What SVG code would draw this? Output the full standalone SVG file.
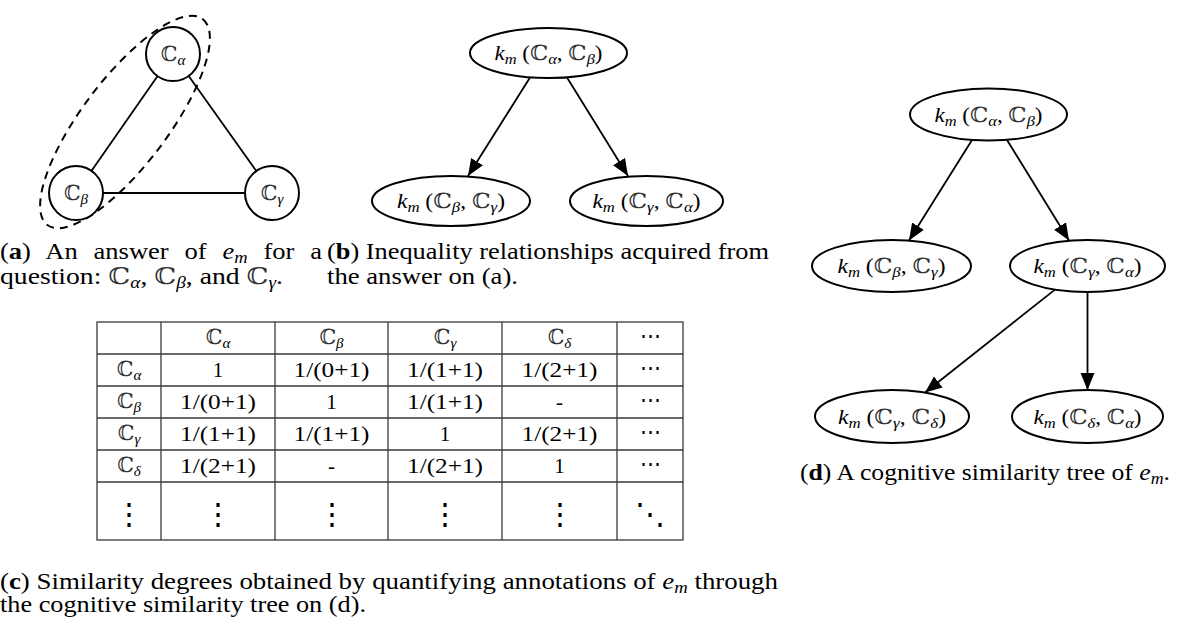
<svg xmlns="http://www.w3.org/2000/svg" width="1178" height="619" viewBox="0 0 1178 619">
<style>
.t{font-family:"Liberation Serif","Times New Roman","DejaVu Serif",serif;fill:#000}
.cap{font-size:23px}
.lbl{font-size:21px}
.cell{font-size:21px}
.node{fill:#fff;stroke:#000;stroke-width:2}
.edge{stroke:#000;stroke-width:1.8;fill:none}
.arr{stroke:#000;stroke-width:1.8;fill:none;marker-end:url(#ah)}
.grid{stroke:#3a3a3a;stroke-width:1.3;fill:none}
.it{font-style:italic}
.b{font-weight:bold}
.bb{fill:#333}
</style>
<defs>
<marker id="ah" markerUnits="userSpaceOnUse" markerWidth="18" markerHeight="16" refX="17" refY="7" orient="auto">
<path d="M0,0 L17,7 L0,14 z" fill="#000"/>
</marker>
</defs>

<!-- Panel (a) -->
<g id="panel-a">
<ellipse cx="125" cy="122" rx="129" ry="43" transform="rotate(-53 125 122)" fill="none" stroke="#000" stroke-width="2" stroke-dasharray="8 6"/>
<g id="a-edges">
<line class="edge" x1="157.6" y1="76.1" x2="91.4" y2="170.9"/>
<line class="edge" x1="188.7" y1="76" x2="256.3" y2="171"/>
<line class="edge" x1="103" y1="193" x2="245" y2="193"/>
</g>
<g id="a-alpha"><circle class="node" cx="173" cy="54" r="27"/><text class="t lbl" x="173" y="61" text-anchor="middle"><tspan class="bb">ℂ</tspan><tspan class="it" font-size="15" dy="4">α</tspan></text></g>
<g id="a-beta"><circle class="node" cx="76" cy="193" r="27"/><text class="t lbl" x="76" y="200" text-anchor="middle"><tspan class="bb">ℂ</tspan><tspan class="it" font-size="15" dy="4">β</tspan></text></g>
<g id="a-gamma"><circle class="node" cx="272" cy="193" r="27"/><text class="t lbl" x="272" y="200" text-anchor="middle"><tspan class="bb">ℂ</tspan><tspan class="it" font-size="15" dy="4">γ</tspan></text></g>
</g>

<!-- Panel (b) -->
<g id="panel-b">
<g id="b-edges">
<line class="arr" x1="530" y1="77.5" x2="468" y2="176"/>
<line class="arr" x1="567" y1="77.5" x2="628" y2="176"/>
</g>
<g id="b-ab"><ellipse class="node" cx="548.5" cy="53" rx="78.5" ry="25"/>
<text class="t lbl" x="548.5" y="60" text-anchor="middle" textLength="108" lengthAdjust="spacingAndGlyphs"><tspan class="it">k</tspan><tspan class="it" font-size="15" dy="4">m</tspan><tspan dy="-4"> (</tspan><tspan class="bb">ℂ</tspan><tspan class="it" font-size="15" dy="4">α</tspan><tspan dy="-4">, </tspan><tspan class="bb">ℂ</tspan><tspan class="it" font-size="15" dy="4">β</tspan><tspan dy="-4">)</tspan></text></g>
<g id="b-bg"><ellipse class="node" cx="451" cy="201" rx="79" ry="25"/>
<text class="t lbl" x="451" y="208" text-anchor="middle" textLength="108" lengthAdjust="spacingAndGlyphs"><tspan class="it">k</tspan><tspan class="it" font-size="15" dy="4">m</tspan><tspan dy="-4"> (</tspan><tspan class="bb">ℂ</tspan><tspan class="it" font-size="15" dy="4">β</tspan><tspan dy="-4">, </tspan><tspan class="bb">ℂ</tspan><tspan class="it" font-size="15" dy="4">γ</tspan><tspan dy="-4">)</tspan></text></g>
<g id="b-ga"><ellipse class="node" cx="646.5" cy="201" rx="76.5" ry="25"/>
<text class="t lbl" x="646.5" y="208" text-anchor="middle" textLength="108" lengthAdjust="spacingAndGlyphs"><tspan class="it">k</tspan><tspan class="it" font-size="15" dy="4">m</tspan><tspan dy="-4"> (</tspan><tspan class="bb">ℂ</tspan><tspan class="it" font-size="15" dy="4">γ</tspan><tspan dy="-4">, </tspan><tspan class="bb">ℂ</tspan><tspan class="it" font-size="15" dy="4">α</tspan><tspan dy="-4">)</tspan></text></g>
</g>

<!-- Panel (d) -->
<g id="panel-d">
<g id="d-edges">
<line class="arr" x1="972" y1="140" x2="909" y2="240.5"/>
<line class="arr" x1="1007" y1="140" x2="1069" y2="240.5"/>
<line class="arr" x1="1055" y1="289.6" x2="925" y2="392.5"/>
<line class="arr" x1="1087.5" y1="292" x2="1087.5" y2="390"/>
</g>
<g id="d-ab"><ellipse class="node" cx="988.5" cy="114.5" rx="78.5" ry="26"/>
<text class="t lbl" x="988.5" y="121.5" text-anchor="middle" textLength="108" lengthAdjust="spacingAndGlyphs"><tspan class="it">k</tspan><tspan class="it" font-size="15" dy="4">m</tspan><tspan dy="-4"> (</tspan><tspan class="bb">ℂ</tspan><tspan class="it" font-size="15" dy="4">α</tspan><tspan dy="-4">, </tspan><tspan class="bb">ℂ</tspan><tspan class="it" font-size="15" dy="4">β</tspan><tspan dy="-4">)</tspan></text></g>
<g id="d-bg"><ellipse class="node" cx="891.5" cy="266" rx="79.5" ry="26"/>
<text class="t lbl" x="891.5" y="273" text-anchor="middle" textLength="108" lengthAdjust="spacingAndGlyphs"><tspan class="it">k</tspan><tspan class="it" font-size="15" dy="4">m</tspan><tspan dy="-4"> (</tspan><tspan class="bb">ℂ</tspan><tspan class="it" font-size="15" dy="4">β</tspan><tspan dy="-4">, </tspan><tspan class="bb">ℂ</tspan><tspan class="it" font-size="15" dy="4">γ</tspan><tspan dy="-4">)</tspan></text></g>
<g id="d-ga"><ellipse class="node" cx="1087.5" cy="266" rx="77.5" ry="26"/>
<text class="t lbl" x="1087.5" y="273" text-anchor="middle" textLength="108" lengthAdjust="spacingAndGlyphs"><tspan class="it">k</tspan><tspan class="it" font-size="15" dy="4">m</tspan><tspan dy="-4"> (</tspan><tspan class="bb">ℂ</tspan><tspan class="it" font-size="15" dy="4">γ</tspan><tspan dy="-4">, </tspan><tspan class="bb">ℂ</tspan><tspan class="it" font-size="15" dy="4">α</tspan><tspan dy="-4">)</tspan></text></g>
<g id="d-gd"><ellipse class="node" cx="892" cy="416.5" rx="77" ry="26.5"/>
<text class="t lbl" x="892" y="423.5" text-anchor="middle" textLength="108" lengthAdjust="spacingAndGlyphs"><tspan class="it">k</tspan><tspan class="it" font-size="15" dy="4">m</tspan><tspan dy="-4"> (</tspan><tspan class="bb">ℂ</tspan><tspan class="it" font-size="15" dy="4">γ</tspan><tspan dy="-4">, </tspan><tspan class="bb">ℂ</tspan><tspan class="it" font-size="15" dy="4">δ</tspan><tspan dy="-4">)</tspan></text></g>
<g id="d-da"><ellipse class="node" cx="1087.5" cy="416.5" rx="75.5" ry="26.5"/>
<text class="t lbl" x="1087.5" y="423.5" text-anchor="middle" textLength="108" lengthAdjust="spacingAndGlyphs"><tspan class="it">k</tspan><tspan class="it" font-size="15" dy="4">m</tspan><tspan dy="-4"> (</tspan><tspan class="bb">ℂ</tspan><tspan class="it" font-size="15" dy="4">δ</tspan><tspan dy="-4">, </tspan><tspan class="bb">ℂ</tspan><tspan class="it" font-size="15" dy="4">α</tspan><tspan dy="-4">)</tspan></text></g>
</g>

<!-- Panel (c) table -->
<g id="table-c">
<g id="grid">
<rect class="grid" x="97" y="322" width="586" height="218"/>
<line class="grid" x1="97" y1="354" x2="683" y2="354"/>
<line class="grid" x1="97" y1="386" x2="683" y2="386"/>
<line class="grid" x1="97" y1="418" x2="683" y2="418"/>
<line class="grid" x1="97" y1="450" x2="683" y2="450"/>
<line class="grid" x1="97" y1="482" x2="683" y2="482"/>
<line class="grid" x1="161" y1="322" x2="161" y2="540"/>
<line class="grid" x1="275" y1="322" x2="275" y2="540"/>
<line class="grid" x1="388" y1="322" x2="388" y2="540"/>
<line class="grid" x1="502" y1="322" x2="502" y2="540"/>
<line class="grid" x1="617" y1="322" x2="617" y2="540"/>
</g>
<g class="t cell" text-anchor="middle">
<text x="218" y="344"><tspan class="bb">ℂ</tspan><tspan class="it" font-size="15" dy="4">α</tspan></text>
<text x="331.5" y="344"><tspan class="bb">ℂ</tspan><tspan class="it" font-size="15" dy="4">β</tspan></text>
<text x="445" y="344"><tspan class="bb">ℂ</tspan><tspan class="it" font-size="15" dy="4">γ</tspan></text>
<text x="559.5" y="344"><tspan class="bb">ℂ</tspan><tspan class="it" font-size="15" dy="4">δ</tspan></text>
<text x="650" y="343">⋯</text>

<text x="129" y="376"><tspan class="bb">ℂ</tspan><tspan class="it" font-size="15" dy="4">α</tspan></text>
<text x="218" y="377">1</text>
<text x="331.5" y="377" textLength="76" lengthAdjust="spacingAndGlyphs">1/(0+1)</text>
<text x="445" y="377" textLength="76" lengthAdjust="spacingAndGlyphs">1/(1+1)</text>
<text x="559.5" y="377" textLength="76" lengthAdjust="spacingAndGlyphs">1/(2+1)</text>
<text x="650" y="375">⋯</text>

<text x="129" y="408"><tspan class="bb">ℂ</tspan><tspan class="it" font-size="15" dy="4">β</tspan></text>
<text x="218" y="409" textLength="76" lengthAdjust="spacingAndGlyphs">1/(0+1)</text>
<text x="331.5" y="409">1</text>
<text x="445" y="409" textLength="76" lengthAdjust="spacingAndGlyphs">1/(1+1)</text>
<text x="559.5" y="409">-</text>
<text x="650" y="407">⋯</text>

<text x="129" y="440"><tspan class="bb">ℂ</tspan><tspan class="it" font-size="15" dy="4">γ</tspan></text>
<text x="218" y="441" textLength="76" lengthAdjust="spacingAndGlyphs">1/(1+1)</text>
<text x="331.5" y="441" textLength="76" lengthAdjust="spacingAndGlyphs">1/(1+1)</text>
<text x="445" y="441">1</text>
<text x="559.5" y="441" textLength="76" lengthAdjust="spacingAndGlyphs">1/(2+1)</text>
<text x="650" y="439">⋯</text>

<text x="129" y="472"><tspan class="bb">ℂ</tspan><tspan class="it" font-size="15" dy="4">δ</tspan></text>
<text x="218" y="473" textLength="76" lengthAdjust="spacingAndGlyphs">1/(2+1)</text>
<text x="331.5" y="473">-</text>
<text x="445" y="473" textLength="76" lengthAdjust="spacingAndGlyphs">1/(2+1)</text>
<text x="559.5" y="473">1</text>
<text x="650" y="471">⋯</text>

<text x="129" y="524" font-size="30">⋮</text>
<text x="218" y="524" font-size="30">⋮</text>
<text x="331.5" y="524" font-size="30">⋮</text>
<text x="445" y="524" font-size="30">⋮</text>
<text x="559.5" y="524" font-size="30">⋮</text>
<text x="650" y="524" font-size="30">⋱</text>
</g>
</g>

<!-- Captions -->
<g id="captions" class="t cap">
<text x="0" y="259" textLength="322" lengthAdjust="spacingAndGlyphs" word-spacing="8">(<tspan class="b">a</tspan>) An answer of <tspan class="it">e</tspan><tspan class="it" font-size="16" dy="4">m</tspan><tspan dy="-4"> for a</tspan></text>
<text x="0" y="284" textLength="283" lengthAdjust="spacingAndGlyphs">question: <tspan class="bb">ℂ</tspan><tspan class="it" font-size="16" dy="4">α</tspan><tspan dy="-4">, </tspan><tspan class="bb">ℂ</tspan><tspan class="it" font-size="16" dy="4">β</tspan><tspan dy="-4">, and </tspan><tspan class="bb">ℂ</tspan><tspan class="it" font-size="16" dy="4">γ</tspan><tspan dy="-4">.</tspan></text>
<text x="327" y="259" textLength="442" lengthAdjust="spacingAndGlyphs">(<tspan class="b">b</tspan>) Inequality relationships acquired from</text>
<text x="327" y="284" textLength="191" lengthAdjust="spacingAndGlyphs">the answer on (a).</text>
<text x="0" y="589" textLength="778" lengthAdjust="spacingAndGlyphs">(<tspan class="b">c</tspan>) Similarity degrees obtained by quantifying annotations of <tspan class="it">e</tspan><tspan class="it" font-size="16" dy="4">m</tspan><tspan dy="-4"> through</tspan></text>
<text x="0" y="612" textLength="366" lengthAdjust="spacingAndGlyphs">the cognitive similarity tree on (d).</text>
<text x="800" y="480" textLength="370" lengthAdjust="spacingAndGlyphs">(<tspan class="b">d</tspan>) A cognitive similarity tree of <tspan class="it">e</tspan><tspan class="it" font-size="16" dy="4">m</tspan><tspan dy="-4">.</tspan></text>
</g>
</svg>
